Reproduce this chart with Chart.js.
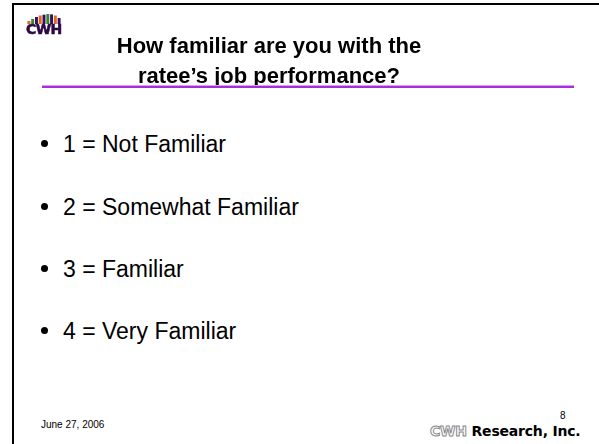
<!DOCTYPE html>
<html>
<head>
<meta charset="utf-8">
<script src="https://cdn.jsdelivr.net/npm/chart.js@4"></script>
<style>
  html, body { margin: 0; padding: 0; background: #fff; }
  body { width: 599px; height: 444px; position: relative; overflow: hidden; font-family: "Liberation Sans", Arial, sans-serif; color: #000; }
  .frame-top { position: absolute; left: 12px; top: 3px; width: 600px; height: 2px; background: #000; }
  .frame-left { position: absolute; left: 12px; top: 3px; width: 2px; height: 450px; background: #000; }
  .logo { position: absolute; left: 27px; top: 14px; width: 34px; height: 10px; }
  .logo-text { position: absolute; left: 26px; top: 22px; font: bold 14px "DejaVu Sans", sans-serif; color: #2b0a45; line-height: 14px; letter-spacing: -0.6px; -webkit-text-stroke: 0.6px #2b0a45; }
  .title { position: absolute; left: 69px; width: 400px; text-align: center; font-weight: bold; font-size: 22px; line-height: 30px; top: 31px; }
  .rule { position: absolute; left: 42px; top: 85px; width: 532px; height: 3px; background: #a82de0; border-top: 1px solid #d9a0f2; box-sizing: border-box; }
  ul { position: absolute; left: 0; top: 0; margin: 0; padding: 0; list-style: none; }
  li { position: absolute; left: 0; white-space: nowrap; font-size: 23px; line-height: 28px; }
  li .dot { position: absolute; left: 41px; top: 10px; width: 7px; height: 7px; border-radius: 50%; background: #000; }
  li .txt { position: absolute; left: 63px; top: 0; }
  .date { position: absolute; left: 41px; top: 419px; font-size: 10px; }
  .page { position: absolute; left: 560px; top: 410px; font-size: 10px; }
  .brand { position: absolute; left: 430px; top: 423px; font: bold 14px "DejaVu Sans", sans-serif; white-space: nowrap; letter-spacing: -0.2px; }
  .brand .cwh { color: #fff; -webkit-text-stroke: 1px #888; }
</style>
</head>
<body>
<div class="frame-top"></div>
<div class="frame-left"></div>
<div class="logo"><canvas id="logo"></canvas></div>
<div class="logo-text">CWH</div>
<div class="title" id="title"></div>
<div class="rule"></div>
<ul id="list"></ul>
<div class="date" id="date"></div>
<div class="page" id="page"></div>
<div class="brand"><span class="cwh">CWH</span> Research, Inc.</div>
<script>
const titleLines = ['How familiar are you with the', 'ratee\u2019s job performance?'];
const ratingValues = [1, 2, 3, 4];
const ratingLabels = ['Not Familiar', 'Somewhat Familiar', 'Familiar', 'Very Familiar'];
const ratingBaselines = [152, 215, 277, 339];
const footerDate = 'June 27, 2006';
const pageNumber = '8';

// logo: little arch of bars above the letters
const logoHeights = [3, 5, 7, 8.5, 9.3, 10, 9.6, 8.5, 6];
const logoColors = ['#e06a1e', '#2f8a2a', '#3a0d5c', '#e06a1e', '#3a0d5c', '#2f8a2a', '#3a0d5c', '#e06a1e', '#3a0d5c'];

document.getElementById('title').innerHTML = titleLines.join('<br>');
document.getElementById('date').textContent = footerDate;
document.getElementById('page').textContent = pageNumber;

const list = document.getElementById('list');
ratingValues.forEach(function (v, i) {
    const li = document.createElement('li');
    li.style.top = (ratingBaselines[i] - 22) + 'px';
    li.innerHTML = '<span class="dot"></span><span class="txt">' + v + ' = ' + ratingLabels[i] + '</span>';
    list.appendChild(li);
});

new Chart(document.getElementById('logo'), {
    type: 'bar',
    data: {
        labels: logoHeights.map(function (h, i) { return i; }),
        datasets: [{
            data: logoHeights,
            backgroundColor: logoColors,
            borderWidth: 0,
            categoryPercentage: 1,
            barPercentage: 0.78
        }]
    },
    options: {
        responsive: true,
        maintainAspectRatio: false,
        animation: false,
        layout: { padding: 0 },
        plugins: { legend: { display: false }, tooltip: { enabled: false } },
        scales: {
            x: { display: false },
            y: { display: false, min: 0, max: 10 }
        }
    }
});
</script>
</body>
</html>
